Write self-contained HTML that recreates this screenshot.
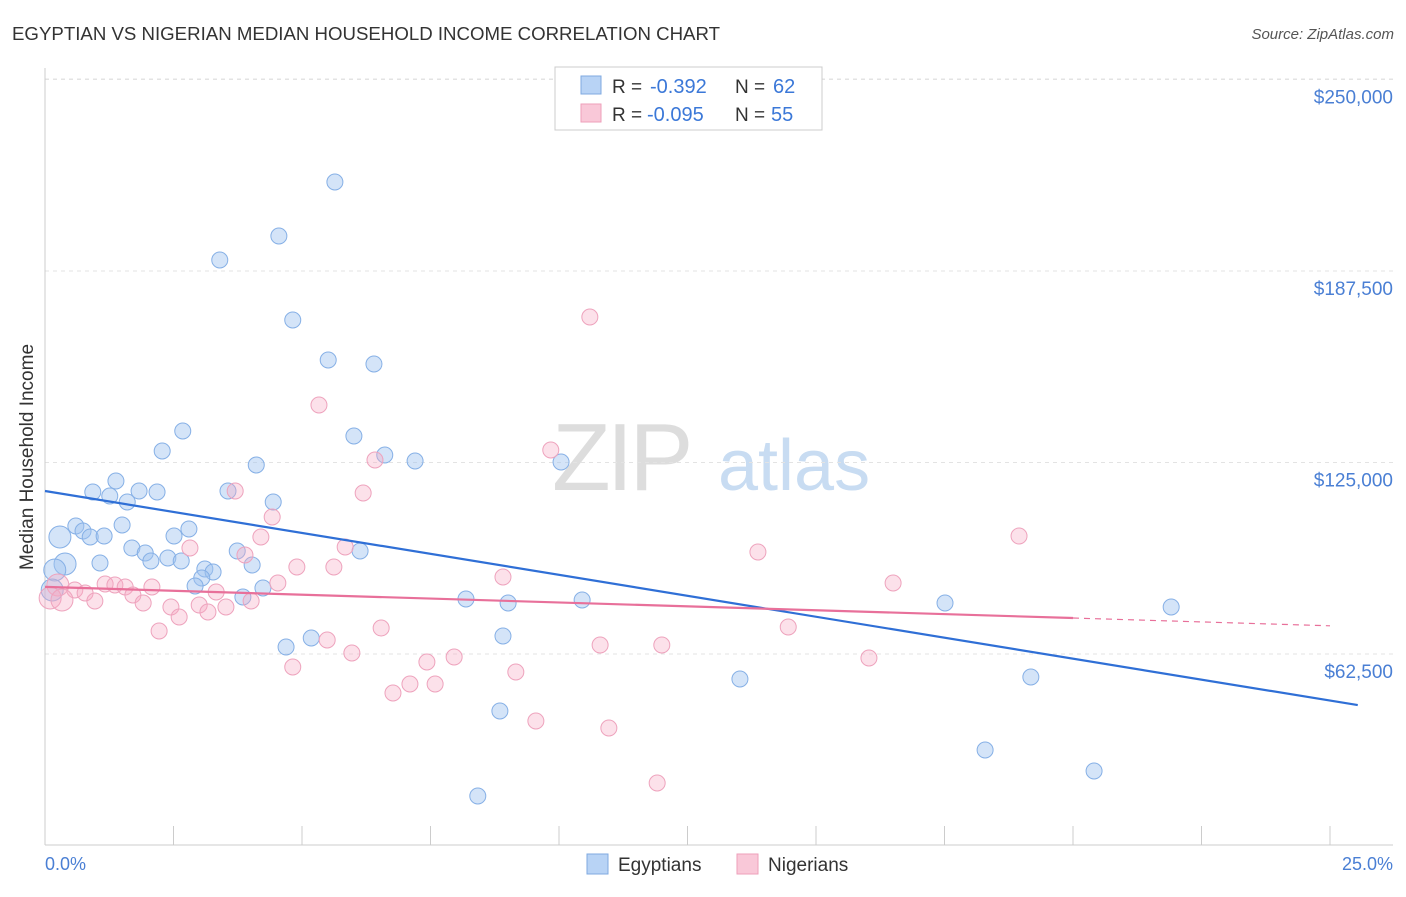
<!DOCTYPE html>
<html><head><meta charset="utf-8"><style>
body{margin:0;background:#fff;font-family:"Liberation Sans",sans-serif}
svg text{font-family:"Liberation Sans",sans-serif}
</style></head><body>
<svg id="c" width="1406" height="892" viewBox="0 0 1406 892">
<text x="12" y="40" font-size="18" fill="#333" textLength="708" lengthAdjust="spacingAndGlyphs">EGYPTIAN VS NIGERIAN MEDIAN HOUSEHOLD INCOME CORRELATION CHART</text>
<text x="1394" y="39" font-size="15" fill="#555" font-style="italic" text-anchor="end">Source: ZipAtlas.com</text>
<g><text x="552" y="490" font-size="96" fill="#ddd" font-family="Liberation Serif" letter-spacing="-4">ZIP</text><text x="718" y="490" font-size="72" fill="#c8dcf2">atlas</text></g>
<g id="grid"></g>
<line x1="45" y1="68" x2="45" y2="845" stroke="#ccc"/>
<line x1="45" y1="845" x2="1393" y2="845" stroke="#ccc"/>
<text x="33" y="457" font-size="19" fill="#333" transform="rotate(-90 33 457)" text-anchor="middle">Median Household Income</text>
<text x="45" y="870" font-size="18" fill="#4a7fd4">0.0%</text>
<text x="1393" y="870" font-size="18" fill="#4a7fd4" text-anchor="end">25.0%</text>
<g id="pts"></g><g id="lines"></g>
<g>
<rect x="555" y="67" width="267" height="63" fill="#fff" stroke="#ccc"/>
<rect x="581" y="76" width="20" height="18" fill="#b8d3f5" stroke="#7fa9e0"/>
<rect x="581" y="104" width="20" height="18" fill="#f9c8d8" stroke="#ee9fba"/>
<text x="612" y="93" font-size="19" fill="#333">R =</text><text x="650" y="93" font-size="20" fill="#3b78d8">-0.392</text>
<text x="735" y="93" font-size="19" fill="#333">N =</text><text x="773" y="93" font-size="20" fill="#3b78d8">62</text>
<text x="612" y="121" font-size="19" fill="#333">R =</text><text x="647" y="121" font-size="20" fill="#3b78d8">-0.095</text>
<text x="735" y="121" font-size="19" fill="#333">N =</text><text x="771" y="121" font-size="20" fill="#3b78d8">55</text>
</g>
<g>
<rect x="587" y="854" width="21" height="20" fill="#b8d3f5" stroke="#7fa9e0"/><text x="618" y="871" font-size="19" fill="#333">Egyptians</text>
<rect x="737" y="854" width="21" height="20" fill="#f9c8d8" stroke="#ee9fba"/><text x="768" y="871" font-size="19" fill="#333">Nigerians</text>
</g>
</svg>
<script>
const yTicks=[62500,125000,187500,250000];
const yTickLabels=["$62,500","$125,000","$187,500","$250,000"];
const xTicks=[0,2.5,5,7.5,10,12.5,15,17.5,20,22.5,25];
const bluePx=[[335,182],[279,236],[220,260],[293,320],[328,360],[374,364],[183,431],[354,436],[162,451],[385,455],[415,461],[561,462],[256,465],[116,481],[93,492],[139,491],[157,492],[110,496],[228,491],[127,502],[273,502],[122,525],[76,526],[83,531],[189,529],[60,537],[90,537],[104,536],[174,536],[132,548],[145,553],[237,551],[360,551],[168,558],[151,561],[181,561],[65,564],[100,563],[252,565],[205,569],[213,572],[202,578],[195,586],[263,588],[55,570],[52,590],[243,597],[466,599],[508,603],[582,600],[945,603],[1171,607],[503,636],[311,638],[286,647],[740,679],[1031,677],[500,711],[985,750],[1094,771],[478,796]];
const pinkPx=[[590,317],[319,405],[551,450],[375,460],[363,493],[235,491],[272,517],[261,537],[1019,536],[758,552],[190,548],[245,555],[345,547],[297,567],[334,567],[58,585],[75,590],[105,584],[115,585],[125,587],[85,593],[95,601],[133,595],[143,603],[152,587],[171,607],[199,605],[216,592],[226,607],[208,612],[251,601],[278,583],[503,577],[893,583],[179,617],[159,631],[381,628],[327,640],[788,627],[600,645],[662,645],[352,653],[454,657],[427,662],[293,667],[516,672],[869,658],[410,684],[435,684],[393,693],[536,721],[609,728],[657,783],[50,598],[62,600]];
const toVal=p=>[+((p[0]-45)/1285*25).toFixed(2),Math.round((845.5-p[1])/191.5*62500)];
const egyptX=bluePx.map(p=>toVal(p)[0]), egyptY=bluePx.map(p=>toVal(p)[1]);
const nigerX=pinkPx.map(p=>toVal(p)[0]), nigerY=pinkPx.map(p=>toVal(p)[1]);
const blueTrend=[115700,47300];
const pinkTrend=[84400,71700];
const sx=v=>45+v/25*1285, sy=v=>845.5-v/62500*191.5;
const NS='http://www.w3.org/2000/svg';
function mk(t,a,parent){const e=document.createElementNS(NS,t);for(const k in a)e.setAttribute(k,a[k]);document.getElementById(parent).appendChild(e);return e;}
yTicks.forEach((v,i)=>{
 const l=mk('line',{x1:45,x2:1393,y1:sy(v),y2:sy(v),stroke:'#e3e3e3','stroke-dasharray':'4,4'},'grid');
 
 
 const t=mk('text',{x:1393,y:sy(v)+24,'font-size':19,fill:'#4a7fd4','text-anchor':'end'},'grid');
 t.textContent=yTickLabels[i];
 
 
});
mk('line',{x1:45,x2:1393,y1:79,y2:79,stroke:'#e3e3e3','stroke-dasharray':'4,4'},'grid');
xTicks.forEach(v=>{
 const l=mk('line',{x1:sx(v),x2:sx(v),y1:826,y2:845,stroke:'#ccc'},'grid');
 
 
});
function dots(xs,ys,fill,stroke,name){xs.forEach((x,i)=>{
 const big=x<0.5;
 const c=mk('circle',{cx:sx(x),cy:sy(ys[i]),r:big?11:8,fill:fill,stroke:stroke,'stroke-width':1},'pts');
 
 
});}
dots(egyptX,egyptY,'rgba(160,196,240,0.45)','#86b0e6','egyptian-point');
dots(nigerX,nigerY,'rgba(245,170,195,0.35)','#eea3bd','nigerian-point');
const bEnd=25.54;
const bl=mk('line',{x1:sx(0),y1:sy(blueTrend[0]),x2:sx(bEnd),y2:sy(blueTrend[0]+(blueTrend[1]-blueTrend[0])*bEnd/25),stroke:'#2f6fd6','stroke-width':2.2},'lines');


const pv=x=>pinkTrend[0]+(pinkTrend[1]-pinkTrend[0])*x/25;
const pl=mk('line',{x1:sx(0),y1:sy(pv(0)),x2:sx(20),y2:sy(pv(20)),stroke:'#e8709a','stroke-width':2.2},'lines');


const pd=mk('line',{x1:sx(20),y1:sy(pv(20)),x2:sx(25),y2:sy(pv(25)),stroke:'#e8709a','stroke-width':1.2,'stroke-dasharray':'6,5'},'lines');


</script>
</body></html>
